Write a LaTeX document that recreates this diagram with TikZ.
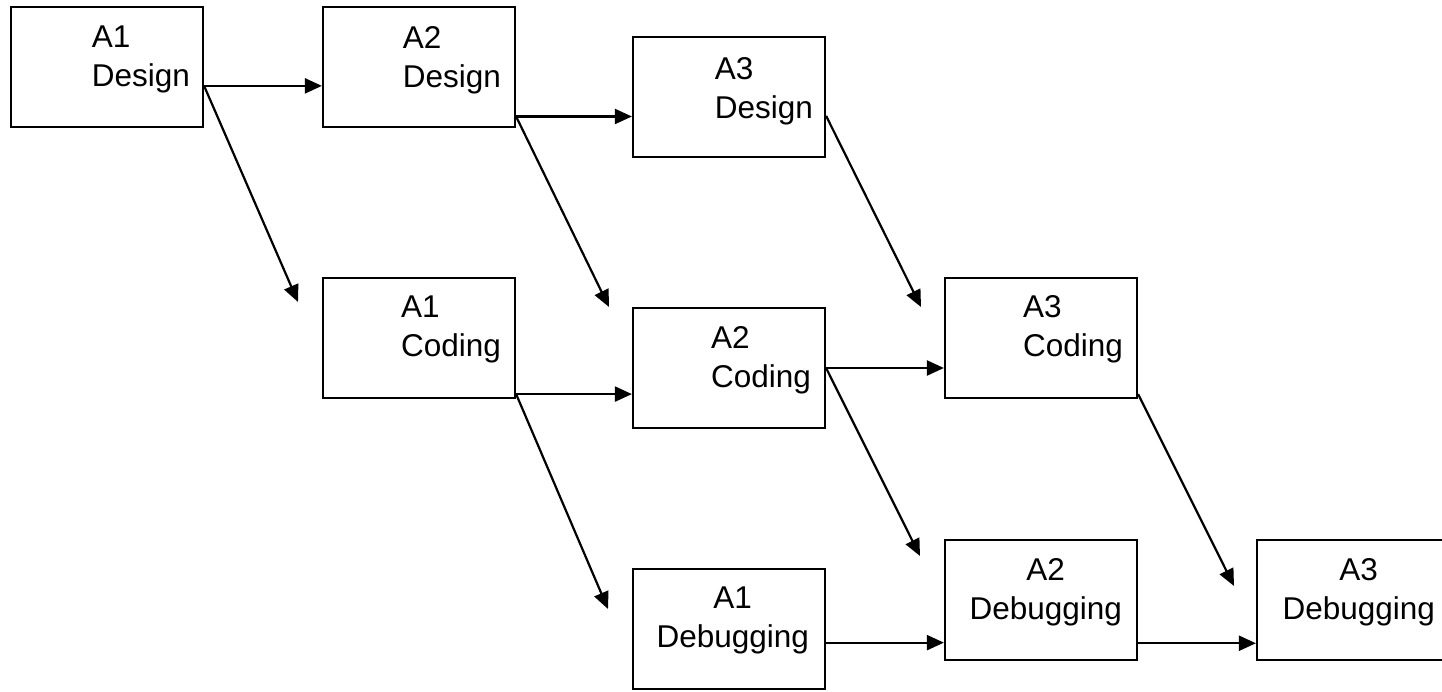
\documentclass[tikz,border=0pt]{standalone}
\usepackage{fontspec}
\setmainfont{Liberation Sans}
\usetikzlibrary{positioning, calc, arrows.meta}

\tikzset{
    box/.style={draw, line width=2.2pt, minimum width=192pt, minimum height=120pt, inner sep=0pt},
    lbl/.style={inner sep=0pt, font=\fontsize{31.5}{39}\selectfont, align=left},
    lblc/.style={lbl, align=center},
    arr/.style={line width=2.2pt, -{Triangle[length=17pt, width=15pt]}}
}

\begin{document}
\begin{tikzpicture}[x=1pt, y=-1pt]
    \clip (0,0) rectangle (1442,691);
    \fill[white] (0,0) rectangle (1442,691);

    % boxes
    \node[box] (design1) at (107, 67) {};
    \node[box] (design2) at (419, 67) {};
    \node[box] (design3) at (729, 97) {};
    \node[box] (coding1) at (419, 338) {};
    \node[box] (coding2) at (729, 368) {};
    \node[box] (coding3) at (1041, 338) {};
    \node[box] (debug1) at (729, 629) {};
    \node[box] (debug2) at (1041, 600) {};
    \node[box] (debug3) at (1353, 600) {};

    % texts
    \node[lbl, below left=20pt and 14pt of design1.north east] (design1txt) {A1\\Design};
    \node[lbl, below left=20pt and 15pt of design2.north east] (design2txt) {A2\\Design};
    \node[lbl, below left=21pt and 13pt of design3.north east] (design3txt) {A3\\Design};
    \node[lbl, below left=19pt and 15pt of coding1.north east] (coding1txt) {A1\\Coding};
    \node[lbl, below left=19pt and 15pt of coding2.north east] (coding2txt) {A2\\Coding};
    \node[lbl, below left=18pt and 15pt of coding3.north east] (coding3txt) {A3\\Coding};
    \node[lblc, below left=19pt and 17pt of debug1.north east] (debug1txt) {A1\\Debugging};
    \node[lblc, below left=19pt and 16pt of debug2.north east] (debug2txt) {A2\\Debugging};
    \node[lblc, below left=19pt and 15pt of debug3.north east] (debug3txt) {A3\\Debugging};

    % open ends of the slanted arrows
    \coordinate (design1end) at (298, 302);
    \coordinate (design2end) at (609, 307);
    \coordinate (design3end) at (921, 307);
    \coordinate (coding1end) at (608, 609);
    \coordinate (coding2end) at (920, 556);
    \coordinate (coding3end) at (1234, 586);

    \draw[arr] (design1.-11.8) -- (design1.-11.8 -| design2.west);
    \draw[arr] (design1.-11.8) -- (design1end);
    \draw[arr] (design2.-27.5) -- (design2.-27.5 -| design3.west);
    \draw[arr] (design2.-27.5) -- (design2end);
    \draw[arr] (design3.-11.8) -- (design3end);

    \draw[arr] (coding1.-30.7) -- (coding1.-30.7 -| coding2.west);
    \draw[arr] (coding1.-30.7) -- (coding1end);
    \draw[arr] (coding2.east) -- (coding2.east -| coding3.west);
    \draw[arr] (coding2.east) -- (coding2end);
    \draw[arr] (coding3.-30.7) -- (coding3end);

    \draw[arr] (debug1.-8.3) -- (debug1.-8.3 -| debug2.west);
    \draw[arr] (debug2.-24.1) -- (debug2.-24.1 -| debug3.west);
\end{tikzpicture}
\end{document}
